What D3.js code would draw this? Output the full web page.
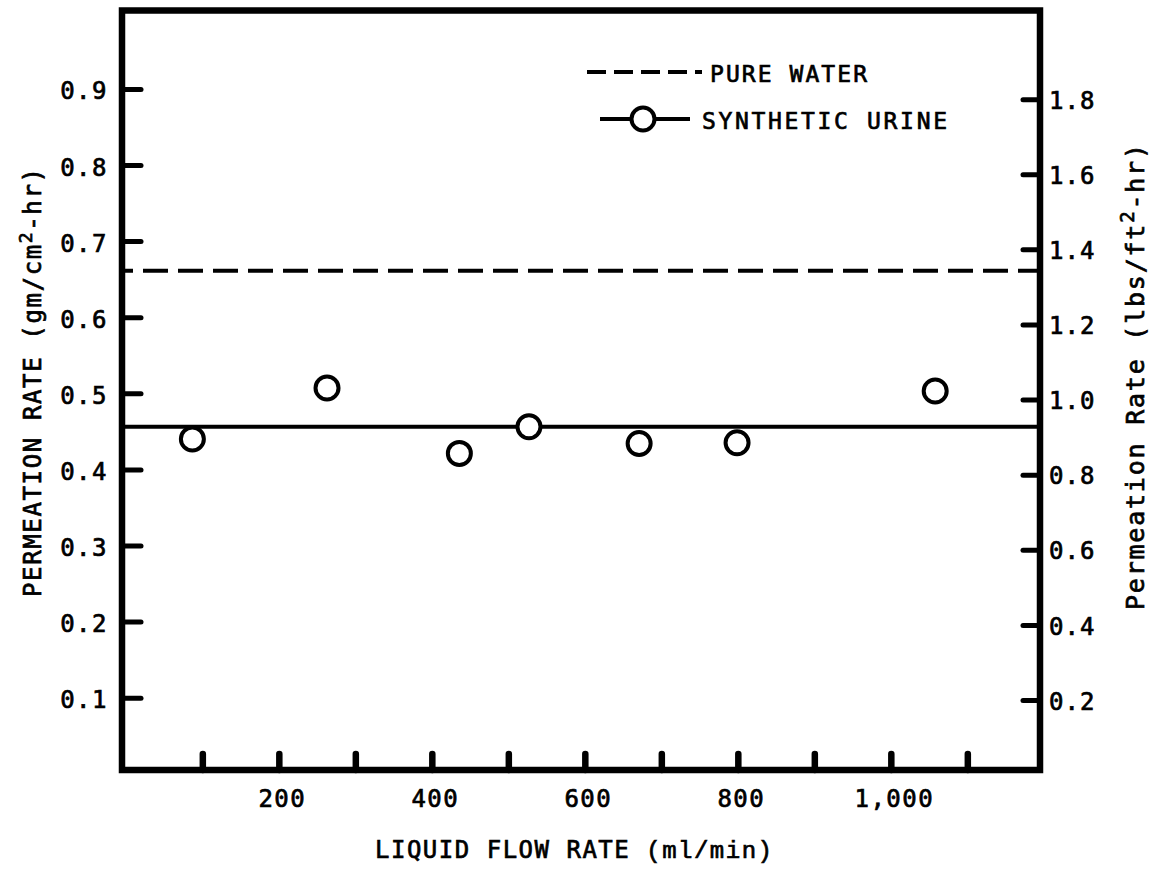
<!DOCTYPE html>
<html>
<head>
<meta charset="utf-8">
<script src="https://cdn.jsdelivr.net/npm/d3@7"></script>
<style>
  html, body { margin: 0; padding: 0; background: #fff; }
  svg { display: block; }
  text { font-family: "DejaVu Sans Mono", "Liberation Mono", monospace; fill: #000; stroke: #000; stroke-width: 0.7px; }
</style>
</head>
<body>
<svg id="chart" width="1156" height="871"></svg>
<script>
// Liquid flow rate (ml/min) for each synthetic-urine run
const flowRate = [87, 263, 436, 527, 671, 799, 1058];
// Permeation rate (gm/cm^2-hr) measured with synthetic urine
const urineRate = [0.440, 0.507, 0.421, 0.456, 0.434, 0.435, 0.503];
// Reference levels (gm/cm^2-hr)
const pureWaterRate = 0.661;
const urineMeanRate = 0.456;

// Axis ticks
const xTicks = [100, 200, 300, 400, 500, 600, 700, 800, 900, 1000, 1100];
const xLabelValues = [200, 400, 600, 800, 1000];
const xLabelText = ["200", "400", "600", "800", "1,000"];
const leftTicks = [0.1, 0.2, 0.3, 0.4, 0.5, 0.6, 0.7, 0.8, 0.9];
const leftTickText = ["0.1", "0.2", "0.3", "0.4", "0.5", "0.6", "0.7", "0.8", "0.9"];
const rightTicks = [0.2, 0.4, 0.6, 0.8, 1.0, 1.2, 1.4, 1.6, 1.8];
const rightTickText = ["0.2", "0.4", "0.6", "0.8", "1.0", "1.2", "1.4", "1.6", "1.8"];

const svg = d3.select("#chart");

const x = d3.scaleLinear().domain([-5, 1195]).range([122, 1040]);
const yL = d3.scaleLinear().domain([0.005, 1.003]).range([770, 10.5]);
const yR = d3.scaleLinear().domain([0.0136, 2.036]).range([770, 10.5]);

const [x0, x1] = x.range();
const [yb, yt] = yL.range();

// Reference lines across the full flow-rate range
const hLine = d3.line().x(d => x(d[0])).y(d => yL(d[1]));
const xd = x.domain();

svg.append("path")
  .attr("d", hLine([[xd[0], pureWaterRate], [xd[1], pureWaterRate]]))
  .attr("fill", "none").attr("stroke", "#000")
  .attr("stroke-width", 4).attr("stroke-dasharray", "25 10")
  .attr("stroke-dashoffset", 14);

svg.append("path")
  .attr("d", hLine([[xd[0], urineMeanRate], [xd[1], urineMeanRate]]))
  .attr("fill", "none").attr("stroke", "#000")
  .attr("stroke-width", 4);

// Frame
svg.append("rect")
  .attr("x", x0).attr("y", yt)
  .attr("width", x1 - x0).attr("height", yb - yt)
  .attr("fill", "none").attr("stroke", "#000").attr("stroke-width", 6.5);

function styleAxis(g, width) {
  g.select(".domain").remove();
  g.selectAll(".tick line")
    .attr("stroke", "#000")
    .attr("stroke-width", width)
    .attr("stroke-linecap", "round");
  g.selectAll(".tick text")
    .attr("font-family", "DejaVu Sans Mono, monospace")
    .attr("font-size", 24)
    .attr("letter-spacing", 1.5)
    .attr("fill", "#000");
}

// Left axis
svg.append("g")
  .attr("transform", `translate(${x0},0)`)
  .call(d3.axisLeft(yL).tickValues(leftTicks)
    .tickFormat((d, i) => leftTickText[i])
    .tickSizeInner(-19).tickSizeOuter(0).tickPadding(14))
  .call(g => styleAxis(g, 5))
  .call(g => g.selectAll(".tick text").attr("dy", "0.42em"));

// Right axis
svg.append("g")
  .attr("transform", `translate(${x1},0)`)
  .call(d3.axisRight(yR).tickValues(rightTicks)
    .tickFormat((d, i) => rightTickText[i])
    .tickSizeInner(-17).tickSizeOuter(0).tickPadding(9))
  .call(g => styleAxis(g, 5))
  .call(g => g.selectAll(".tick text").attr("dy", "0.38em").attr("letter-spacing", 1));

// Bottom axis
svg.append("g")
  .attr("transform", `translate(0,${yb})`)
  .call(d3.axisBottom(x).tickValues(xTicks)
    .tickFormat(d => {
      const i = xLabelValues.indexOf(d);
      return i >= 0 ? xLabelText[i] : "";
    })
    .tickSizeInner(-16).tickSizeOuter(0).tickPadding(20))
  .call(g => styleAxis(g, 6.5))
  .call(g => g.selectAll(".tick text").attr("dx", 3));

// Data points
svg.append("g")
  .selectAll("circle")
  .data(flowRate.map((f, i) => ({ f, r: urineRate[i] })))
  .join("circle")
  .attr("cx", d => x(d.f))
  .attr("cy", d => yL(d.r))
  .attr("r", 11.5)
  .attr("fill", "#fff")
  .attr("stroke", "#000")
  .attr("stroke-width", 4);

// Legend
const legend = svg.append("g");
legend.append("line")
  .attr("x1", 587).attr("x2", 702).attr("y1", 72).attr("y2", 72)
  .attr("stroke", "#000").attr("stroke-width", 4).attr("stroke-dasharray", "19 8");
legend.append("text")
  .attr("x", 710).attr("y", 82)
  .attr("font-size", 23).attr("textLength", 157).attr("lengthAdjust", "spacing")
  .text("PURE WATER");
legend.append("line")
  .attr("x1", 600).attr("x2", 690).attr("y1", 119).attr("y2", 119)
  .attr("stroke", "#000").attr("stroke-width", 4);
legend.append("circle")
  .attr("cx", 643).attr("cy", 119).attr("r", 11.5)
  .attr("fill", "#fff").attr("stroke", "#000").attr("stroke-width", 4);
legend.append("text")
  .attr("x", 702).attr("y", 129)
  .attr("font-size", 23).attr("textLength", 245).attr("lengthAdjust", "spacing")
  .text("SYNTHETIC URINE");

// Axis titles
const bottomTitle = svg.append("text")
  .attr("x", 375).attr("y", 858)
  .attr("font-size", 24).attr("textLength", 397).attr("lengthAdjust", "spacing");
bottomTitle.append("tspan").text("LIQUID FLOW RATE ");
bottomTitle.append("tspan").attr("font-family", "Liberation Mono, monospace").text("(ml/min)");

const leftTitle = svg.append("text")
  .attr("transform", "translate(41,597) rotate(-90)")
  .attr("font-size", 24).attr("textLength", 429).attr("lengthAdjust", "spacing");
leftTitle.append("tspan").text("PERMEATION RATE (gm/cm");
leftTitle.append("tspan").attr("dy", -9).attr("font-size", 18).text("2");
leftTitle.append("tspan").attr("dy", 9).text("-hr)");

const rightTitle = svg.append("text")
  .attr("transform", "translate(1144,610) rotate(-90)")
  .attr("font-size", 25).attr("textLength", 466).attr("lengthAdjust", "spacing");
rightTitle.append("tspan").text("Permeation Rate (lbs/ft");
rightTitle.append("tspan").attr("dy", -10).attr("font-size", 19).text("2");
rightTitle.append("tspan").attr("dy", 10).text("-hr)");
</script>
</body>
</html>
